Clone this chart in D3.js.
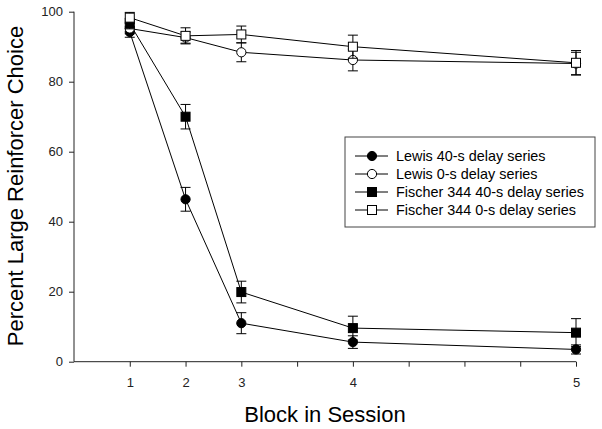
<!DOCTYPE html>
<html>
<head>
<meta charset="utf-8">
<script src="https://cdn.jsdelivr.net/npm/d3@7"></script>
<style>
  body { margin: 0; background: #fff; }
  svg { font-family: "Liberation Sans", Arial, sans-serif; }
</style>
</head>
<body>
<svg id="chart" width="602" height="429"></svg>
<script>
'use strict';

// blocks and where they sit on the session axis (axis ticks run 0..9)
var blocks = [1, 2, 3, 4, 5];
var blockPos = [1, 2, 3, 5, 9];
var xTicks = [1, 2, 3, 4, 5, 6, 7, 8, 9];
var xTickLabels = ['1', '2', '3', '', '4', '', '', '', '5'];
var yTicks = [0, 20, 40, 60, 80, 100];

var seriesNames = ['Lewis 40-s delay series', 'Lewis 0-s delay series',
  'Fischer 344 40-s delay series', 'Fischer 344 0-s delay series'];

var lewis40 = [94.2, 46.4, 11.0, 5.6, 3.5];
var lewis40Err = [1.5, 3.4, 3.0, 1.8, 1.3];
var lewis0 = [95.2, 92.6, 88.4, 86.2, 85.2];
var lewis0Err = [1.5, 1.6, 2.7, 3.1, 3.2];
var f34440 = [96.6, 70.0, 19.9, 9.6, 8.3];
var f34440Err = [1.5, 3.5, 3.1, 3.4, 4.0];
var f3440 = [98.3, 93.1, 93.5, 90.0, 85.4];
var f3440Err = [1.5, 2.3, 2.4, 3.3, 3.5];

var svg = d3.select('#chart'),
    x = d3.scaleLinear().domain([0, 9]).range([74, 576]),
    y = d3.scaleLinear().domain([0, 100]).range([361.7, 11.7]);

var series = [
  { name: seriesNames[0], values: lewis40, err: lewis40Err, shape: 'circle', fill: '#000' },
  { name: seriesNames[1], values: lewis0, err: lewis0Err, shape: 'circle', fill: '#fff' },
  { name: seriesNames[2], values: f34440, err: f34440Err, shape: 'square', fill: '#000' },
  { name: seriesNames[3], values: f3440, err: f3440Err, shape: 'square', fill: '#fff' }
];

// axes
svg.append('g')
  .attr('transform', 'translate(0,361.7)')
  .call(d3.axisBottom(x).tickValues(xTicks).tickSize(5).tickPadding(11)
    .tickFormat(function (d, i) { return xTickLabels[i]; }))
  .call(function (g) {
    g.select('.domain').attr('d', 'M' + x(0) + ',0H' + x(9));
    g.selectAll('text').attr('font-size', 13).attr('fill', '#222');
  });

svg.append('g')
  .attr('transform', 'translate(74,0)')
  .call(d3.axisLeft(y).tickValues(yTicks).tickSize(5).tickPadding(6))
  .call(function (g) {
    g.select('.domain').attr('d', 'M0,' + y(0) + 'V' + y(100));
    g.selectAll('text').attr('font-size', 13).attr('fill', '#222');
  });

svg.selectAll('.domain, .tick line').attr('stroke', '#222').attr('stroke-width', 1);

// axis titles
svg.append('text')
  .attr('x', 325).attr('y', 422)
  .attr('text-anchor', 'middle')
  .attr('font-size', 22)
  .text('Block in Session');

svg.append('text')
  .attr('transform', 'translate(23,186) rotate(-90)')
  .attr('text-anchor', 'middle')
  .attr('font-size', 22)
  .text('Percent Large Reinforcer Choice');

var line = d3.line()
  .x(function (d, i) { return x(blockPos[i]); })
  .y(function (d) { return y(d); });

function drawMarker(g, shape, fill, cx, cy) {
  if (shape === 'circle') {
    g.append('circle').attr('cx', cx).attr('cy', cy).attr('r', 4.6)
      .attr('fill', fill).attr('stroke', '#000').attr('stroke-width', 1);
  } else {
    g.append('rect').attr('x', cx - 4.5).attr('y', cy - 4.5)
      .attr('width', 9).attr('height', 9)
      .attr('fill', fill).attr('stroke', '#000').attr('stroke-width', 1);
  }
}

var plot = svg.append('g');

series.forEach(function (s) {
  plot.append('path')
    .attr('d', line(s.values))
    .attr('fill', 'none')
    .attr('stroke', '#000')
    .attr('stroke-width', 1);
});

series.forEach(function (s) {
  var g = plot.append('g');
  s.values.forEach(function (v, i) {
    var cx = x(blockPos[i]), top = y(v + s.err[i]), bot = y(v - s.err[i]);
    g.append('path')
      .attr('d', 'M' + cx + ',' + top + 'V' + bot +
        'M' + (cx - 5) + ',' + top + 'H' + (cx + 5) +
        'M' + (cx - 5) + ',' + bot + 'H' + (cx + 5))
      .attr('stroke', '#000').attr('stroke-width', 1).attr('fill', 'none');
  });
  s.values.forEach(function (v, i) {
    drawMarker(g, s.shape, s.fill, x(blockPos[i]), y(v));
  });
});

// legend
var legend = svg.append('g').attr('transform', 'translate(345,137)');
legend.append('rect')
  .attr('width', 250).attr('height', 90)
  .attr('fill', '#fff').attr('stroke', '#444').attr('stroke-width', 1);

series.forEach(function (s, i) {
  var ly = 19 + i * 18;
  legend.append('line')
    .attr('x1', 10).attr('x2', 43).attr('y1', ly).attr('y2', ly)
    .attr('stroke', '#000').attr('stroke-width', 1);
  drawMarker(legend, s.shape, s.fill, 27, ly);
  legend.append('text')
    .attr('x', 51).attr('y', ly + 5)
    .attr('font-size', 14.4)
    .text(s.name);
});
</script>
</body>
</html>
